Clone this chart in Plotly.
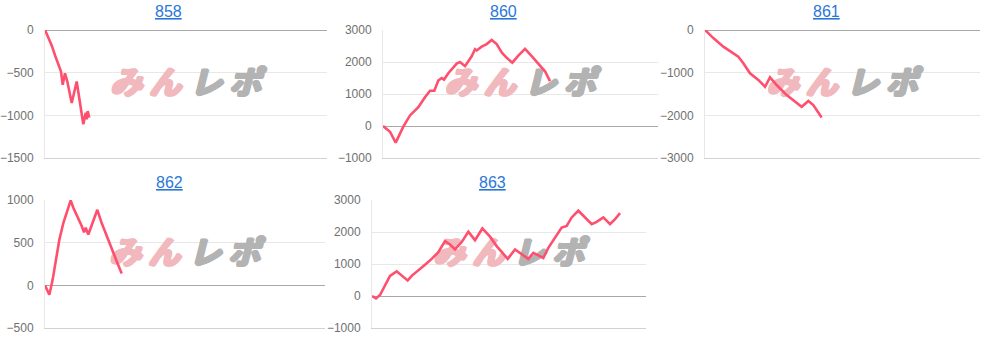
import plotly.graph_objects as go

# ---- data (games played vs. coin difference) ----
games_858 = [0, 117, 238, 355, 472, 567, 628, 709, 791, 947, 1124, 1217, 1302, 1358, 1444, 1478, 1514, 1570]
diff_858 = [0, -85, -181, -296, -412, -488, -642, -508, -604, -856, -604, -796, -1008, -1104, -969, -1046, -950, -1027]

games_860 = [0, 255, 462, 738, 982, 1284, 1527, 1709, 1866, 2011, 2134, 2218, 2375, 2680, 2800, 2982,
             3225, 3345, 3407, 3589, 3771, 3953, 4134, 4316, 4498, 4702, 4920, 5164, 5407, 5647, 5891, 6073]
diff_860 = [0, -180, -520, -20, 330, 590, 900, 1100, 1100, 1420, 1500, 1450, 1650, 1950, 2000, 1870,
            2180, 2400, 2360, 2480, 2560, 2690, 2560, 2300, 2130, 1980, 2200, 2410, 2180, 1960, 1710, 1400]

games_861 = [0, 303, 667, 1030, 1212, 1394, 1636, 1939, 2182, 2364, 2606, 2970, 3273, 3515, 3758, 3939, 4242]
diff_861 = [0, -190, -390, -545, -625, -780, -1015, -1170, -1330, -1110, -1290, -1525, -1680, -1800, -1665, -1760, -2050]

games_862 = [0, 155, 274, 393, 512, 655, 798, 917, 1012, 1155, 1310, 1393, 1452, 1548, 1726, 1869, 2024,
             2202, 2381, 2560, 2738]
diff_862 = [0, -110, 67, 300, 535, 730, 870, 995, 910, 815, 695, 620, 675, 595, 750, 885, 730, 575, 420, 283, 140]

games_863 = [0, 146, 292, 475, 657, 900, 1083, 1302, 1448, 1691, 1935, 2178, 2420, 2665, 2847, 3030, 3273,
             3516, 3760, 4027, 4307, 4550, 4757, 4953, 5220, 5463, 5705, 5888, 6070, 6253, 6435, 6680, 6923,
             7105, 7288, 7531, 7775, 8019, 8200, 8443, 8687, 8870, 9052]
diff_863 = [0, -75, 30, 350, 630, 770, 630, 485, 630, 820, 980, 1160, 1370, 1715, 1610, 1455, 1685, 2010,
            1745, 2110, 1855, 1560, 1350, 1160, 1455, 1295, 1160, 1350, 1265, 1190, 1505, 1820, 2140, 2190,
            2455, 2665, 2455, 2245, 2315, 2455, 2245, 2400, 2590]

machine_names = ["858", "860", "861", "862", "863"]
y_ranges = [[-1500, 0], [-1000, 3000], [-3000, 0], [-500, 1000], [-1000, 3000]]
y_dticks = [500, 1000, 1000, 500, 1000]
watermark_chars = ["み", "ん", "レ", "ポ"]

# ---- layout (pixels) ----
W, H = 987, 337
X_RANGE = [0, 10000]
dom_x_px = [(45, 327), (383, 658), (705, 980), (45, 325), (372, 646)]
dom_y_px = [(30, 158), (30, 158), (30, 158), (200, 328), (200, 328)]
title_px = [(168, 11), (503, 11), (826, 11), (169, 182), (492, 182)]

series = [(games_858, diff_858), (games_860, diff_860), (games_861, diff_861),
          (games_862, diff_862), (games_863, diff_863)]

LINE_COLOR = "#ff4f6e"
GRID = "#e8e8e8"
PINK = "#f1b9bd"
GRAY = "#b3b3b3"


def thick(c):
    return ", ".join(f"{a}px {b}px 0 {c}" for a, b in
                     [(1, 0), (-1, 0), (0, 1), (0, -1), (1, 1), (-1, -1), (1, -1), (-1, 1), (2, 0)])


fig = go.Figure()
layout = dict(width=W, height=H, autosize=False,
              margin=dict(l=0, r=0, t=0, b=0, pad=0),
              paper_bgcolor="white", plot_bgcolor="white",
              showlegend=False, annotations=[])

for i, ((gx, gy), name, yr, dt, dx, dy, tp) in enumerate(
        zip(series, machine_names, y_ranges, y_dticks, dom_x_px, dom_y_px, title_px), start=1):
    xa = "x" if i == 1 else f"x{i}"
    ya = "y" if i == 1 else f"y{i}"
    xk = "xaxis" if i == 1 else f"xaxis{i}"
    yk = "yaxis" if i == 1 else f"yaxis{i}"

    # watermark (drawn first so the line sits on top)
    wpx = dx[1] - dx[0]
    span = X_RANGE[1] - X_RANGE[0]
    cx = X_RANGE[0] + 0.5 * span
    offs = [-60, -21, 20, 59]
    cols = [PINK, PINK, GRAY, GRAY]
    for o, ch, c in zip(offs, watermark_chars, cols):
        fig.add_trace(go.Scatter(
            x=[cx + o / wpx * span], y=[yr[0] + 0.565 * (yr[1] - yr[0])],
            mode="text", text=[ch],
            textfont=dict(family="Noto Sans CJK JP", size=32, color=c,
                          weight="bold", style="italic", shadow=thick(c)),
            hoverinfo="skip", xaxis=xa, yaxis=ya, cliponaxis=False))

    fig.add_trace(go.Scatter(
        x=gx, y=gy, mode="lines", line=dict(color=LINE_COLOR, width=2.6),
        xaxis=xa, yaxis=ya, hoverinfo="skip"))

    layout[xk] = dict(domain=[dx[0] / W, dx[1] / W], range=X_RANGE, anchor=ya,
                      showticklabels=False, showgrid=False, zeroline=False, automargin=False,
                      showline=True, linecolor="#d2d2d2", linewidth=1, ticks="")
    layout[yk] = dict(domain=[1 - dy[1] / H, 1 - dy[0] / H], range=yr, anchor=xa,
                      dtick=dt, tick0=0, showgrid=True, gridcolor=GRID, gridwidth=1,
                      zeroline=True, zerolinecolor="#a8a8a8", zerolinewidth=1, automargin=False,
                      showline=True, linecolor=GRID, linewidth=1, ticks="",
                      ticklabelstandoff=8,
                      tickfont=dict(family="Liberation Sans, Arial", size=12, color="#707070"))
    layout["annotations"].append(dict(
        text=f"<u>{name}</u>", x=tp[0] / W, y=1 - tp[1] / H, xref="paper", yref="paper",
        xanchor="center", yanchor="middle", showarrow=False,
        font=dict(family="Liberation Sans, Arial", size=16, color="#2a78d6")))

fig.update_layout(**layout)
fig.write_html("out.html")
